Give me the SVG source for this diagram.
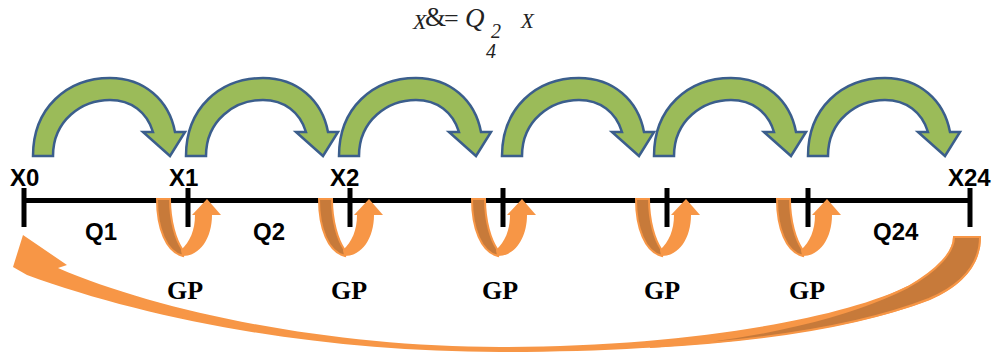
<svg xmlns="http://www.w3.org/2000/svg" xmlns:xlink="http://www.w3.org/1999/xlink" width="995" height="356" viewBox="0 0 995 356">
<style>
.green{fill:#9BBB59;stroke:#3B5E8C;stroke-width:2.5;stroke-linejoin:miter}
.dark{fill:#C77A3A;stroke:#F79646;stroke-width:2}
.light{fill:#F79646;stroke:none}
.axis{stroke:#000;stroke-width:5;fill:none}
.lbl{font-family:"Liberation Sans",Arial,sans-serif;font-weight:bold;font-size:24px;fill:#000}
.gp{font-family:"Liberation Serif","Times New Roman",serif;font-weight:bold;font-size:26px;fill:#000;text-anchor:middle}
.eq{font-family:"Liberation Serif","Times New Roman",serif;fill:#222}
</style>
<defs>
<path id="garrow" class="green" d="M0,156 C0,108 34,78 77,78 C111,78 136,100 142,132 L152,132 L137,156 L110,132 L120,132 C114,112 98,100 77,100 C49,100 20,120 20,156 Z"/>
<g id="loop">
<path class="dark" d="M-31,199 L-18,199 C-18,222 -12,240 -6,249 L-5,256 C-22,252 -31,228 -31,199 Z"/>
<path class="light" d="M-7,250 C2,242 7,230 7,215 L4,215 L19,199 L33,215 L24,215 C24,238 12,256 -5,256 Z"/>
</g>
</defs>
<g id="formula">
<text class="eq" x="413" y="29" font-size="22" font-style="italic">X</text>
<text class="eq" x="425" y="26" font-size="27">&amp;</text>
<text class="eq" x="444" y="27" font-size="26">=</text>
<text class="eq" x="465" y="27" font-size="27" font-style="italic">Q</text>
<text class="eq" x="491" y="38" font-size="20" font-style="italic">2</text>
<text class="eq" x="521" y="28" font-size="21" font-style="italic">X</text>
<text class="eq" x="486" y="58" font-size="20" font-style="italic">4</text>
</g>
<g id="connectors">
<g id="big-arrow">
<path class="light" d="M23,235 L67,265 L58,268 C160,312 330,347 500,347 C680,347 840,320 910,285 C940,268 953,252 953,237 L981,237 C981,262 965,285 930,300 C840,335 680,352 500,352 C320,352 150,320 27,275 L13,267 Z"/>
<path class="dark" d="M954,237 L980,237 C980,262 964,284 929,299 C860,326 760,341 650,347 C760,339 850,316 908,287 C938,270 954,252 954,237 Z"/>
</g>
<g id="green-arrows">
<use xlink:href="#garrow" href="#garrow" transform="translate(33,0)"/>
<use xlink:href="#garrow" href="#garrow" transform="translate(186,0)"/>
<use xlink:href="#garrow" href="#garrow" transform="translate(339,0)"/>
<use xlink:href="#garrow" href="#garrow" transform="translate(502,0)"/>
<use xlink:href="#garrow" href="#garrow" transform="translate(654,0)"/>
<use xlink:href="#garrow" href="#garrow" transform="translate(808,0)"/>
</g>
</g>
<g id="axis">
<line class="axis" x1="22" y1="200.5" x2="972" y2="200.5"/>
<line class="axis" x1="24" y1="188" x2="24" y2="227"/>
<line class="axis" x1="188" y1="188" x2="188" y2="227"/>
<line class="axis" x1="350" y1="188" x2="350" y2="227"/>
<line class="axis" x1="503" y1="188" x2="503" y2="227"/>
<line class="axis" x1="667" y1="188" x2="667" y2="227"/>
<line class="axis" x1="808" y1="188" x2="808" y2="227"/>
<line class="axis" x1="970" y1="188" x2="970" y2="227"/>
</g>
<g id="loops">
<use xlink:href="#loop" href="#loop" transform="translate(188,0)"/>
<use xlink:href="#loop" href="#loop" transform="translate(350,0)"/>
<use xlink:href="#loop" href="#loop" transform="translate(503,0)"/>
<use xlink:href="#loop" href="#loop" transform="translate(667,0)"/>
<use xlink:href="#loop" href="#loop" transform="translate(808,0)"/>
</g>
<g id="labels">
<text class="lbl" x="10" y="186">X0</text>
<text class="lbl" x="169" y="186">X1</text>
<text class="lbl" x="330" y="186">X2</text>
<text class="lbl" x="948" y="186">X24</text>
<text class="lbl" x="85" y="240">Q1</text>
<text class="lbl" x="253" y="240">Q2</text>
<text class="lbl" x="873" y="240">Q24</text>
<text class="gp" x="185" y="299">GP</text>
<text class="gp" x="349" y="299">GP</text>
<text class="gp" x="500" y="299">GP</text>
<text class="gp" x="662" y="299">GP</text>
<text class="gp" x="807" y="299">GP</text>
</g>
</svg>
